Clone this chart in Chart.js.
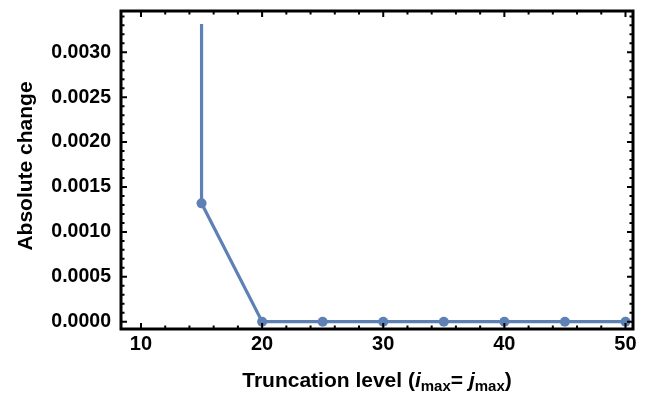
<!DOCTYPE html>
<html>
<head>
<meta charset="utf-8">
<script src="https://cdn.jsdelivr.net/npm/chart.js@4/dist/chart.umd.min.js"></script>
<style>
  html, body { margin: 0; padding: 0; background: #fff; }
  #wrap { width: 645px; height: 394px; }
</style>
</head>
<body>
<div id="wrap"><canvas id="c" width="645" height="394"></canvas></div>
<script>
// ---- data ----
const truncationLevels = [15, 15, 20, 25, 30, 35, 40, 45, 50];
const absoluteChange   = [0.003315, 0.001318, 0, 0, 0, 0, 0, 0, 0];
const markerShown      = [false, true, true, true, true, true, true, true, true];
const xTickStep = 10, xMinorStep = 2;
const yTickStep = 0.0005, yMinorStep = 0.0001;
const yAxisTitle = 'Absolute change';
const xAxisTitleParts = [
  { t: 'Truncation level (', style: 'bold', size: 21, dy: 0 },
  { t: 'i', style: 'italic bold', size: 21, dy: 0 },
  { t: 'max', style: 'bold', size: 15, dy: 4 },
  { t: '= ', style: 'bold', size: 21, dy: 0 },
  { t: 'j', style: 'italic bold', size: 21, dy: 0 },
  { t: 'max', style: 'bold', size: 15, dy: 4 },
  { t: ')', style: 'bold', size: 21, dy: 0 }
];

const FONT = '"Liberation Sans", Arial, sans-serif';
const lineColor = '#5E81B5';

const framePlugin = {
  id: 'frame',
  afterDraw(chart) {
    const ctx = chart.ctx;
    const a = chart.chartArea;
    const xs = chart.scales.x, ys = chart.scales.y;
    ctx.save();
    ctx.strokeStyle = '#000';
    ctx.lineWidth = 2;
    const majL = 6, minL = 3.5;
    const eps = 1e-9;
    const xStart = Math.ceil(xs.min / xMinorStep) * xMinorStep;
    for (let v = xStart; v <= xs.max + eps; v += xMinorStep) {
      const vv = Math.round(v * 1000) / 1000;
      const isMaj = Math.abs(vv / xTickStep - Math.round(vv / xTickStep)) < 1e-6;
      const L = isMaj ? majL : minL;
      const px = xs.getPixelForValue(vv);
      ctx.beginPath();
      ctx.moveTo(px, a.bottom); ctx.lineTo(px, a.bottom - L);
      ctx.moveTo(px, a.top); ctx.lineTo(px, a.top + L);
      ctx.stroke();
    }
    const yStart = Math.ceil(ys.min / yMinorStep - 1e-6);
    const yEnd = Math.floor(ys.max / yMinorStep + 1e-6);
    for (let k = yStart; k <= yEnd; k++) {
      const vv = k * yMinorStep;
      const isMaj = (k % 5 === 0);
      const L = isMaj ? majL : minL;
      const py = ys.getPixelForValue(vv);
      ctx.beginPath();
      ctx.moveTo(a.left, py); ctx.lineTo(a.left + L, py);
      ctx.moveTo(a.right, py); ctx.lineTo(a.right - L, py);
      ctx.stroke();
    }
    ctx.lineWidth = 3;
    ctx.strokeRect(a.left, a.top, a.right - a.left, a.bottom - a.top);

    ctx.fillStyle = '#000';
    let total = 0;
    for (const p of xAxisTitleParts) {
      ctx.font = p.style + ' ' + p.size + 'px ' + FONT;
      p.w = ctx.measureText(p.t).width;
      total += p.w;
    }
    let x = (a.left + a.right) / 2 - total / 2;
    const baseY = 387;
    ctx.textBaseline = 'alphabetic';
    ctx.textAlign = 'left';
    for (const p of xAxisTitleParts) {
      ctx.font = p.style + ' ' + p.size + 'px ' + FONT;
      ctx.fillText(p.t, x, baseY + p.dy);
      x += p.w;
    }
    ctx.save();
    ctx.translate(31.5, 166);
    ctx.rotate(-Math.PI / 2);
    ctx.font = 'bold 21px ' + FONT;
    ctx.textAlign = 'center';
    ctx.fillText(yAxisTitle, 0, 0);
    ctx.restore();
    ctx.restore();
  }
};

const points = truncationLevels.map((x, i) => ({ x: x, y: absoluteChange[i] }));

new Chart(document.getElementById('c'), {
  type: 'line',
  data: {
    datasets: [{
      data: points,
      borderColor: lineColor,
      backgroundColor: lineColor,
      borderWidth: 3.2,
      pointRadius: markerShown.map(s => s ? 5 : 0),
      pointBorderWidth: 0,
      pointBackgroundColor: lineColor,
      tension: 0,
      clip: false
    }]
  },
  options: {
    responsive: false,
    animation: false,
    events: [],
    layout: { padding: { top: 11, right: 12, left: 0, bottom: 0 } },
    plugins: { legend: { display: false }, tooltip: { enabled: false }, title: { display: false } },
    scales: {
      x: {
        type: 'linear',
        min: 8.35, max: 50.62,
        grid: { display: false, drawTicks: false },
        border: { display: false },
        ticks: {
          stepSize: xTickStep,
          includeBounds: false,
          padding: 3,
          color: '#000',
          font: { family: FONT, size: 20, weight: 'bold' },
          maxRotation: 0,
          callback: v => String(v)
        },
        afterFit(s) { s.height = 65; s.paddingLeft = 0; s.paddingRight = 0; }
      },
      y: {
        type: 'linear',
        min: -0.0000813, max: 0.00346,
        grid: { display: false, drawTicks: false },
        border: { display: false },
        ticks: {
          stepSize: yTickStep,
          includeBounds: false,
          padding: 10,
          color: '#000',
          font: { family: FONT, size: 19.5, weight: 'bold' },
          callback: v => Math.abs(v) < 1e-12 ? '0.0000' : Number(v).toFixed(4)
        },
        afterFit(s) { s.width = 121; s.paddingTop = 0; s.paddingBottom = 0; }
      }
    }
  },
  plugins: [framePlugin]
});
</script>
</body>
</html>
